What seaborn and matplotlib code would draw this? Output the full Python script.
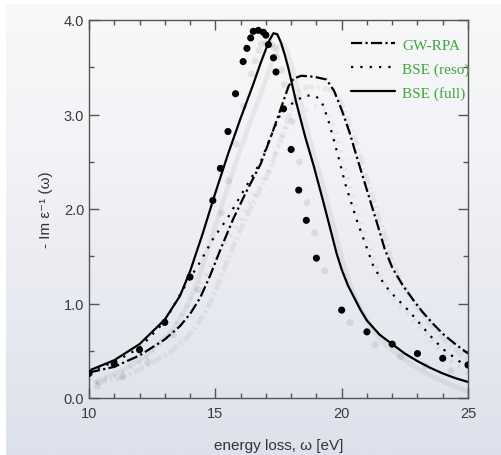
import numpy as np
import pandas as pd
import matplotlib
matplotlib.use("Agg")
import matplotlib.pyplot as plt
import matplotlib.patheffects as pe
from matplotlib.colors import LinearSegmentedColormap
import seaborn as sns

# values
x_gw = [10, 11, 12, 13, 13.6, 14.0, 14.4, 14.8, 15.2, 15.7, 16.2, 16.8, 17.3, 17.9, 18.1, 18.4, 18.9, 19.4,
        19.7, 20.0, 20.3, 20.6, 21.0, 21.4, 21.7, 22.0, 22.4, 22.8, 23.2, 23.6, 24.0, 24.5, 25]
y_gw = [0.27, 0.33, 0.45, 0.62, 0.76, 0.89, 1.06, 1.30, 1.57, 1.89, 2.17, 2.48, 2.84, 3.30, 3.38, 3.41, 3.40, 3.37,
        3.25, 3.05, 2.82, 2.55, 2.20, 1.85, 1.58, 1.38, 1.20, 1.05, 0.91, 0.79, 0.68, 0.57, 0.47]

x_reso = [10, 11, 12, 13, 13.7, 14.4, 14.9, 15.5, 16.0, 16.8, 17.2, 17.6, 18.15, 18.55, 18.95, 19.2,
          19.45, 19.7, 19.9, 20.15, 20.6, 21.25, 21.6, 21.9, 22.7, 23.5, 24.0, 24.6, 25]
y_reso = [0.28, 0.38, 0.53, 0.81, 1.14, 1.44, 1.68, 1.91, 2.14, 2.50, 2.77, 3.02, 3.14, 3.20, 3.20, 3.14,
          2.96, 2.72, 2.52, 2.26, 1.88, 1.40, 1.24, 1.13, 0.91, 0.66, 0.52, 0.40, 0.32]

x_full = [10, 11, 12, 13, 13.6, 14, 14.5, 15, 15.5, 16, 16.5, 16.8, 17.0, 17.15, 17.3, 17.45, 17.6,
          17.75, 17.9, 18.2, 18.55, 18.9, 19.25, 19.55, 19.8, 20.0, 20.25, 20.5, 20.75, 21, 21.5, 22,
          22.5, 23, 23.5, 24, 24.5, 25]
y_full = [0.29, 0.40, 0.57, 0.83, 1.08, 1.34, 1.74, 2.17, 2.58, 2.96, 3.32, 3.55, 3.69, 3.79, 3.86, 3.85,
          3.76, 3.63, 3.48, 3.13, 2.77, 2.45, 2.10, 1.79, 1.53, 1.36, 1.19, 1.06, 0.93, 0.82, 0.67, 0.57,
          0.47, 0.39, 0.32, 0.26, 0.21, 0.17]

x_exp = [10, 11, 12, 13, 14, 14.9, 15.2, 15.5, 15.8, 16.1, 16.25, 16.4, 16.5, 16.7, 16.9, 17.0, 17.1,
         17.3, 17.4, 17.7, 18.0, 18.3, 18.6, 19.0, 20, 21, 22, 23, 24, 25]
y_exp = [0.26, 0.36, 0.51, 0.80, 1.28, 2.09, 2.43, 2.82, 3.22, 3.56, 3.70, 3.81, 3.88, 3.89, 3.87, 3.84, 3.74,
         3.60, 3.45, 3.06, 2.63, 2.20, 1.88, 1.48, 0.93, 0.70, 0.57, 0.47, 0.42, 0.35]

labels = ['GW-RPA', 'BSE (reso)', 'BSE (full)']

df = pd.concat([
    pd.DataFrame({'omega': x_gw, 'loss': y_gw, 'series': labels[0]}),
    pd.DataFrame({'omega': x_reso, 'loss': y_reso, 'series': labels[1]}),
    pd.DataFrame({'omega': x_full, 'loss': y_full, 'series': labels[2]}),
])

sns.set_style("ticks")
plt.rcParams['font.family'] = ['Liberation Sans', 'DejaVu Sans']

fig = plt.figure(figsize=(5.01, 4.56), dpi=100)
fig.patch.set_facecolor('white')

# soft backdrop
bg = fig.add_axes([6/501, 0, 1 - 6/501, 1 - 5/456], zorder=-1)
cmap = LinearSegmentedColormap.from_list('bg', ['#f8f8fa', '#f2f3f6', '#e8eaf1', '#dde1eb'])
bg.imshow(np.linspace(0, 1, 256).reshape(-1, 1), aspect='auto', cmap=cmap, extent=[0, 1, 0, 1])
bg.set_axis_off()

ax = fig.add_axes([89/501, 1 - 399/456, (468 - 89)/501, (399 - 21)/456])
ax.set_facecolor('none')

sns.lineplot(data=df, x='omega', y='loss', style='series', style_order=labels,
             dashes={labels[0]: (5, 1.5, 1, 1.5), labels[1]: (1, 3.2), labels[2]: ''},
             color='black', linewidth=1.6, sort=False, estimator=None, legend=False, ax=ax)

shadow = [pe.SimpleLineShadow(offset=(5, -8), shadow_color='black', alpha=0.05, linewidth=3.5),
          pe.Normal()]
for ln in ax.lines:
    ln.set_path_effects(shadow)

sns.scatterplot(x=x_exp, y=y_exp, color='black', s=26, edgecolor='none', ax=ax, zorder=5)
ax.collections[-1].set_path_effects([pe.SimplePatchShadow(offset=(6, -9), shadow_rgbFace='black', alpha=0.08),
                                     pe.Normal()])

ax.set_xlim(10, 25)
ax.set_ylim(0, 4)
ax.set_xticks([10, 15, 20, 25])
ax.set_xticks(np.arange(10, 26, 1), minor=True)
ax.set_yticks([0, 1, 2, 3, 4])
ax.set_yticks(np.arange(0, 4.01, 0.5), minor=True)
ax.set_yticklabels(['0.0', '1.0', '2.0', '3.0', '4.0'])

ax.tick_params(which='both', direction='in', top=True, right=True, color='#555555',
               labelcolor='#3a3a3a', labelsize=10.5)
ax.tick_params(which='major', length=7, width=1)
ax.tick_params(which='minor', length=3.5, width=1)
ax.tick_params(axis='x', pad=6)
for sp in ax.spines.values():
    sp.set_color('#555555')
    sp.set_linewidth(1)

ax.set_xlabel('energy loss, ω [eV]', fontsize=11, color='#333333', labelpad=13)
ax.set_ylabel('- Im ε⁻¹ (ω)', fontsize=11, color='#333333', labelpad=8)

leg = ax.legend(ax.lines[:3], labels, loc='upper left', bbox_to_anchor=(0.69, 0.952),
                frameon=False, handlelength=2.9, handletextpad=0.5, labelspacing=0.65,
                borderpad=0, borderaxespad=0,
                prop={'family': 'Liberation Serif', 'size': 11})
for t in leg.get_texts():
    t.set_color('#3fa63f')
for h in leg.legend_handles:
    h.set_path_effects([])

fig.savefig('out.png', dpi=100, facecolor=fig.get_facecolor())
